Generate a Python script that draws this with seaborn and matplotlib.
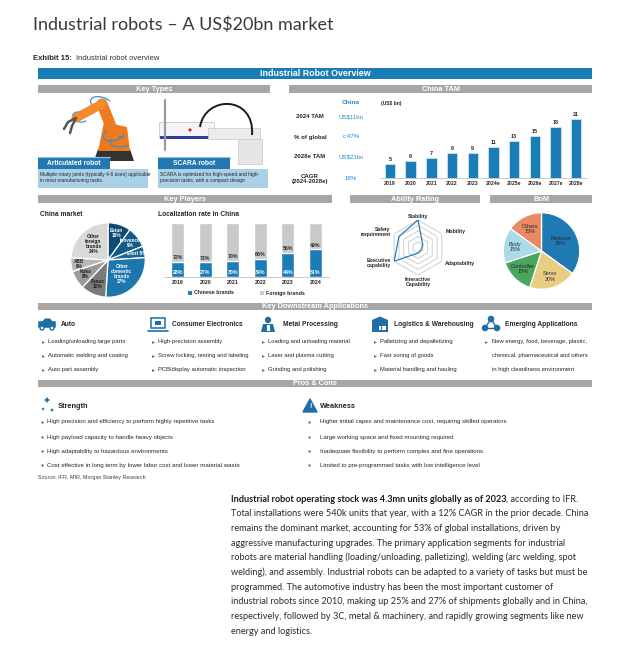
import matplotlib
matplotlib.use("Agg")
import matplotlib.pyplot as plt
import matplotlib.patches as mpatches
from matplotlib.path import Path
import numpy as np
import pandas as pd
import seaborn as sns

W, H = 628, 651

tam_years = ["2019", "2020", "2021", "2022", "2023", "2024e", "2025e", "2026e", "2027e", "2028e"]
tam_values = [5, 6, 7, 9, 9, 11, 13, 15, 18, 21]
tam_row_names = ["2024 TAM", "% of global", "2028e TAM", "CAGR\n(2024-2028e)"]
tam_row_values = ["US$11bn", "c.47%", "US$21bn", "18%"]

loc_years = ["2019", "2020", "2021", "2022", "2023", "2024"]
chinese_share = [28, 27, 30, 34, 44, 51]
foreign_share = [72, 73, 70, 66, 56, 49]

market_brands = ["Estun", "Inovance", "Efort", "Other\ndomestic\nbrands", "Fanuc", "Kuka", "ABB",
                 "Other\nforeign\nbrands"]
market_share = [10, 9, 5, 27, 11, 8, 6, 24]

ability_axes = ["Stability", "Mobility", "Adaptability", "Interactive\nCapability",
                "Executive\ncapability", "Safety\nrequirement"]
ability_scores = [5, 1, 0.7, 1, 5, 4]

bom_parts = ["Reducer", "Servo", "Controller", "Body", "Others"]
bom_share = [35, 20, 15, 15, 15]

app_titles = ["Auto", "Consumer Electronics", "Metal Processing", "Logistics & Warehousing",
              "Emerging Applications"]
app_items = [
    ["Loading/unloading large parts", "Automatic welding and coating", "Auto part assembly"],
    ["High-precision assembly", "Screw locking, testing and labeling", "PCB/display automatic inspection"],
    ["Loading and unloading material", "Laser and plasma cutting", "Grinding and polishing"],
    ["Palletizing and depalletizing", "Fast soring of goods", "Material handling and hauling"],
    ["New energy, food, beverage, plastic,", "chemical, pharmaceutical and others",
     "in high cleanliness environment"],
]
strengths = ["High precision and efficiency to perform highly repetitive tasks",
             "High payload capacity to handle heavy objects",
             "High adaptability to hazardous environments",
             "Cost effective in long term by lower labor cost and lower material waste"]
weaknesses = ["Higher initial capex and maintenance cost, requiring skilled operators",
              "Large working space and fixed mounting required",
              "Inadequate flexibility to perform complex and fine operations",
              "Limited to pre-programmed tasks with low intelligence level"]

para_bold = "Industrial robot operating stock was 4.3mn units globally as of 2023"
para_lines = [", according to IFR.",
              "Total installations were 540k units that year, with a 12% CAGR in the prior decade. China",
              "remains the dominant market, accounting for 53% of global installations, driven by",
              "aggressive manufacturing upgrades. The primary application segments for industrial",
              "robots are material handling (loading/unloading, palletizing), welding (arc welding, spot",
              "welding), and assembly. Industrial robots can be adapted to a variety of tasks but must be",
              "programmed. The automotive industry has been the most important customer of",
              "industrial robots since 2010, making up 25% and 27% of shipments globally and in China,",
              "respectively, followed by 3C, metal & machinery, and rapidly growing segments like new",
              "energy and logistics."]

BLUE = "#1b7db6"
GREY_BAR = "#a6a6a6"
DARK = "#262626"
ICON = "#1f6ea8"

sns.set_theme(style="white")
plt.rcParams["font.family"] = ["Liberation Sans", "DejaVu Sans"]

fig = plt.figure(figsize=(W / 100, H / 100), dpi=100)
cv = fig.add_axes([0, 0, 1, 1])
cv.set_xlim(0, W)
cv.set_ylim(H, 0)
cv.axis("off")


def px_axes(x0, y0, x1, y1, **kw):
    ax = fig.add_axes([x0 / W, 1 - y1 / H, (x1 - x0) / W, (y1 - y0) / H], **kw)
    ax.patch.set_alpha(0)
    return ax


def header(x0, x1, y0, y1, label, color=GREY_BAR, size=5.3):
    cv.add_patch(mpatches.Rectangle((x0, y0), x1 - x0, y1 - y0, color=color, lw=0))
    cv.text((x0 + x1) / 2, (y0 + y1) / 2 + 0.3, label, color="white", fontsize=size,
            fontweight="bold", ha="center", va="center")


# ---- titles ----
cv.text(33, 25, "Industrial robots \u2013 A US$20bn market", fontsize=13, family=["Lato", "DejaVu Sans"],
        color="#3a3a3a", va="center")
ex = cv.text(33, 58, "Exhibit 15:", fontsize=5.5, fontweight="bold", color=DARK, va="center")
cv.annotate("Industrial robot overview", xy=(1, 58), xycoords=(ex, cv.transData), xytext=(3, 0),
            textcoords="offset points", fontsize=5.5, color="#333333", va="center")
header(38, 592, 68, 79, "Industrial Robot Overview", color=BLUE, size=6.4)

# ---- key types ----
header(38, 270, 85, 93, "Key Types")

# articulated robot sketch
cv.add_patch(mpatches.Polygon([[94, 161], [134, 161], [130, 149], [98, 149]], color="#333333", lw=0))
cv.add_patch(mpatches.Polygon([[98, 151], [130, 151], [127, 127], [104, 122]], color="#f07a1a", lw=0))
cv.plot([114, 102], [134, 104], color="#ee7b22", lw=8, solid_capstyle="round")
cv.plot([102, 76], [104, 118], color="#f28a2e", lw=6.5, solid_capstyle="round")
cv.add_patch(mpatches.Circle((102, 104), 5, fc="#d96a12", lw=0))
cv.add_patch(mpatches.Circle((114, 134), 5.5, fc="#d96a12", lw=0))
cv.plot([76, 68, 64], [118, 122, 129], color="#555555", lw=1.8)
cv.plot([76, 72, 70], [118, 126, 133], color="#555555", lw=1.8)
for (cx, cy, w, h, a) in [(102, 104, 24, 13, 20), (114, 134, 22, 13, -20), (80, 117, 15, 10, 10),
                         (120, 142, 20, 10, 0)]:
    cv.add_patch(mpatches.Arc((cx, cy), w, h, angle=a, theta1=20, theta2=320, color="#3a8fd0", lw=0.9))

# SCARA sketch
cv.plot([165, 165], [100, 150], color="#9a9a9a", lw=1.6)
cv.add_patch(mpatches.FancyBboxPatch((161, 124), 52, 13, boxstyle="round,pad=1.5", fc="#f4f4f8",
                                     ec="#c8c8d0", lw=0.6))
cv.add_patch(mpatches.Rectangle((160, 136), 54, 3, color="#2d3f99", lw=0))
cv.add_patch(mpatches.Rectangle((208, 128), 52, 11, fc="#ececec", ec="#c8c8c8", lw=0.5))
cv.add_patch(mpatches.Rectangle((238, 139), 24, 25, fc="#e6e6e6", ec="#c8c8c8", lw=0.5))
cable = Path([(200, 127), (205, 95), (255, 95), (252, 135)], [Path.MOVETO, Path.CURVE4, Path.CURVE4, Path.CURVE4])
cv.add_patch(mpatches.PathPatch(cable, fc="none", ec="#1a1a1a", lw=1.4))
cv.add_patch(mpatches.Circle((190, 130), 1.6, color="#c0392b", lw=0))

for x0, x1, x2, label, desc in [
        (38, 110, 148, "Articulated robot",
         "Multiple rotary joints (typically 4-6 axes) applicable\nin most manufacturing tasks."),
        (158, 230, 268, "SCARA robot",
         "SCARA is optimized for high-speed and high-\nprecision tasks, with a compact design")]:
    cv.add_patch(mpatches.Rectangle((x0, 169), x2 - x0, 19, color="#a9d0e6", lw=0))
    cv.add_patch(mpatches.Rectangle((x0, 157), x1 - x0, 12, color="#2378b1", lw=0))
    cv.plot([x0, x1], [157.3, 157.3], color="#8cc2e3", lw=0.8)
    cv.text((x0 + x1) / 2, 163.3, label, color="white", fontsize=4.8, fontweight="bold",
            ha="center", va="center")
    cv.text(x0 + 2.5, 177.5, desc, color=DARK, fontsize=3.5, va="center", linespacing=1.05)

# ---- China TAM ----
header(289, 592, 85, 93, "China TAM")
cv.text(351, 103, "China", color="#2a86c6", fontsize=4.6, fontweight="bold", ha="center", va="center")
cv.text(381, 103, "(US$ bn)", color=DARK, fontsize=3.6, fontweight="bold", va="center")
for i, (name, val) in enumerate(zip(tam_row_names, tam_row_values)):
    y = [117, 137, 157, 179][i]
    cv.text(310, y, name, color=DARK, fontsize=4.4, fontweight="bold", ha="center", va="center",
            linespacing=1.1)
    cv.text(351, y, val, color="#2a86c6", fontsize=4.4, ha="center", va="center")

ax = px_axes(379.6, 110, 586.6, 178)
sns.barplot(x=tam_years, y=tam_values, color=BLUE, saturation=1, width=0.5, edgecolor="#cfe3f2",
            linewidth=0.6, ax=ax)
ax.bar_label(ax.containers[0], fontsize=3.9, fontweight="bold", padding=1.5, color=DARK)
ax.set_xlim(-0.5, len(tam_years) - 0.5)
ax.set_ylim(0, 24.2)
ax.set_yticks([])
ax.set_xlabel("")
ax.set_ylabel("")
ax.tick_params(axis="x", length=0, pad=2, labelsize=3.7, colors=DARK)
for lab in ax.get_xticklabels():
    lab.set_fontweight("bold")
for s in ["top", "left", "right"]:
    ax.spines[s].set_visible(False)
ax.spines["bottom"].set_color("#bfbfbf")
ax.spines["bottom"].set_linewidth(0.6)

# ---- Key players ----
header(38, 332, 195, 203, "Key Players")
cv.text(40, 214, "China market", color=DARK, fontsize=4.8, fontweight="bold", va="center")
cv.text(158, 214, "Localization rate in China", color=DARK, fontsize=4.8, fontweight="bold", va="center")

market_colors = ["#0f4b70", "#155b87", "#1a6897", "#1e76ad", "#7a7a7a", "#9b9b9b", "#b8b8b8", "#d9d9d9"]
market_text = ["white", "white", "white", "white", "#1e1e1e", "#1e1e1e", "#1e1e1e", "#1e1e1e"]
market_r = [0.76, 0.76, 0.78, 0.52, 0.7, 0.72, 0.78, 0.58]
ax = px_axes(108 - 38, 260 - 38, 108 + 38, 260 + 38)
wedges, _ = ax.pie(market_share, colors=market_colors, startangle=90, counterclock=False,
                   wedgeprops=dict(edgecolor="white", linewidth=0.9))
ax.set_xlim(-1.02, 1.02)
ax.set_ylim(-1.02, 1.02)
for w, name, pct, col, rf in zip(wedges, market_brands, market_share, market_text, market_r):
    ang = np.deg2rad((w.theta1 + w.theta2) / 2)
    lab = f"{name} {pct}%" if name == "Efort" else f"{name}\n{pct}%"
    ax.text(rf * np.cos(ang), rf * np.sin(ang), lab, ha="center", va="center", fontsize=3.4,
            fontweight="bold", color=col, linespacing=1.0)

loc_df = pd.DataFrame({"year": loc_years, "chinese": chinese_share,
                       "total": [c + f for c, f in zip(chinese_share, foreign_share)]})
ax = px_axes(164, 223, 329, 277)
sns.barplot(data=loc_df, x="year", y="total", color="#c9c9c9", saturation=1, width=0.47, ax=ax)
sns.barplot(data=loc_df, x="year", y="chinese", color=BLUE, saturation=1, width=0.47, ax=ax)
for i, (c, f) in enumerate(zip(chinese_share, foreign_share)):
    ax.text(i, 8, f"{c}%", ha="center", va="center", fontsize=3.8, fontweight="bold", color="white")
    ax.text(i, c + 8, f"{f}%", ha="center", va="center", fontsize=3.8, fontweight="bold", color=DARK)
ax.set_xlim(-0.5, len(loc_years) - 0.5)
ax.set_ylim(0, 100)
ax.set_yticks([])
ax.set_xlabel("")
ax.set_ylabel("")
ax.tick_params(axis="x", length=0, pad=2.5, labelsize=3.8, colors=DARK)
for lab in ax.get_xticklabels():
    lab.set_fontweight("bold")
for s in ["top", "left", "right"]:
    ax.spines[s].set_visible(False)
ax.spines["bottom"].set_color("#bfbfbf")
ax.spines["bottom"].set_linewidth(0.6)

for x, col, label in [(190, BLUE, "Chinese brands"), (262, "#c9c9c9", "Foreign brands")]:
    cv.add_patch(mpatches.Rectangle((x - 2.3, 290.7), 4.6, 4.6, color=col, lw=0))
    cv.text(x + 4.5, 293, label, fontsize=3.8, fontweight="bold", color=DARK, va="center")

# ---- Ability rating ----
header(350, 480, 195, 203, "Ability Rating")
R = 27.5
ax = px_axes(418 - R, 247.5 - R, 418 + R, 247.5 + R, projection="polar")
ax.set_theta_offset(np.pi / 2)
ax.set_theta_direction(-1)
angles = np.linspace(0, 2 * np.pi, len(ability_axes), endpoint=False)
ring_ang = np.append(angles, angles[0])
for r in range(1, 6):
    ax.plot(ring_ang, [r] * len(ring_ang), color="#d4d4d4", lw=0.8)
vals = list(ability_scores) + [ability_scores[0]]
ax.plot(ring_ang, vals, color="#2b7bb6", lw=0.9)
ax.set_ylim(0, 5)
ax.grid(False)
ax.set_xticks([])
ax.set_yticks([])
ax.spines["polar"].set_visible(False)
label_pos = [(5.25, "center", "bottom"), (5.7, "left", "center"), (5.7, "left", "center"),
             (5.3, "center", "top"), (5.7, "right", "center"), (5.7, "right", "center")]
for a, name, (rr, ha, va) in zip(angles, ability_axes, label_pos):
    ax.text(a, rr, name, ha=ha, va=va, fontsize=3.7, fontweight="bold", color=DARK,
            linespacing=1.05, clip_on=False)

# ---- BoM ----
header(490, 592, 195, 203, "BoM")
bom_colors = ["#1f7ab3", "#e9cd85", "#4aa65f", "#a9dbe8", "#e98a62"]
bom_r = [0.56, 0.7, 0.68, 0.7, 0.64]
ax = px_axes(541.5 - 39, 251 - 39, 541.5 + 39, 251 + 39)
wedges, _ = ax.pie(bom_share, colors=bom_colors, startangle=90, counterclock=False,
                   wedgeprops=dict(edgecolor="white", linewidth=0.9))
ax.set_xlim(-1.02, 1.02)
ax.set_ylim(-1.02, 1.02)
for w, name, pct, rf in zip(wedges, bom_parts, bom_share, bom_r):
    ang = np.deg2rad((w.theta1 + w.theta2) / 2)
    ax.text(rf * np.cos(ang), rf * np.sin(ang), f"{name}\n{pct}%", ha="center", va="center",
            fontsize=4.0, color="#2a2a2a", linespacing=1.05)

# ---- Key downstream applications ----
header(38, 592, 303, 310, "Key Downstream Applications")
icon_x = [47, 158, 268, 380, 491]
title_x = [61, 172, 283, 394, 505]
bullet_x = [43, 153, 263, 375, 486]
for k, (title, items) in enumerate(zip(app_titles, app_items)):
    cv.text(title_x[k], 325, title, fontsize=4.8, fontweight="bold", color=DARK, va="center")
    for j, item in enumerate(items):
        y = [342, 356, 370][j]
        if k < 4 or j == 0:
            cv.plot(bullet_x[k], y, marker=">", ms=2.0, color=ICON, mec="none")
        cv.text(bullet_x[k] + 5.5, y, item, fontsize=4.2, color=DARK, va="center")

# icons
ix = icon_x
cv.add_patch(mpatches.FancyBboxPatch((ix[0] - 8, 322), 16, 5, boxstyle="round,pad=0.8", fc=ICON, lw=0))
cv.add_patch(mpatches.Polygon([[ix[0] - 5, 322], [ix[0] - 2, 318.5], [ix[0] + 3, 318.5], [ix[0] + 6, 322]],
                              fc=ICON, lw=0))
for dx in (-5, 5):
    cv.add_patch(mpatches.Circle((ix[0] + dx, 328), 2.0, fc="white", ec=ICON, lw=1.0))
cv.add_patch(mpatches.Rectangle((ix[1] - 7, 318), 14, 10, fc="white", ec=ICON, lw=1.1))
cv.add_patch(mpatches.Rectangle((ix[1] - 3, 321), 6, 4, fc=ICON, lw=0))
cv.plot([ix[1] - 10, ix[1] + 10], [331, 331], color=ICON, lw=1.2)
cv.add_patch(mpatches.Circle((ix[2], 320), 3.2, fc=ICON, lw=0))
cv.add_patch(mpatches.Polygon([[ix[2] - 7, 332], [ix[2] - 5, 324], [ix[2] + 5, 324], [ix[2] + 7, 332]],
                              fc=ICON, lw=0))
cv.add_patch(mpatches.Rectangle((ix[2] - 1.5, 325), 3, 6, fc="white", lw=0))
cv.add_patch(mpatches.Polygon([[ix[3] - 8, 332], [ix[3] - 8, 320], [ix[3], 316.5], [ix[3] + 8, 320],
                               [ix[3] + 8, 332]], fc=ICON, lw=0))
for gx in range(3):
    for gy in range(2):
        cv.add_patch(mpatches.Rectangle((ix[3] - 1 + gx * 2.6, 325.5 + gy * 2.6), 2, 2, fc="white", lw=0))
pts = [(ix[4], 319), (ix[4] - 6, 328), (ix[4] + 6, 328)]
for a, b in [(0, 1), (1, 2), (2, 0)]:
    cv.plot([pts[a][0], pts[b][0]], [pts[a][1], pts[b][1]], color=ICON, lw=1.0)
for p in pts:
    cv.add_patch(mpatches.Circle(p, 3.3, fc=ICON, lw=0))

# ---- pros & cons ----
header(38, 592, 380, 387, "Pros & Cons")
for cx, cy, s in [(47, 400, 3.2), (43, 409, 1.8), (52, 410, 2.0)]:
    cv.add_patch(mpatches.Polygon([[cx, cy - s], [cx + s * 0.35, cy - s * 0.35], [cx + s, cy],
                                   [cx + s * 0.35, cy + s * 0.35], [cx, cy + s], [cx - s * 0.35, cy + s * 0.35],
                                   [cx - s, cy], [cx - s * 0.35, cy - s * 0.35]], fc=ICON, lw=0))
cv.text(58, 407, "Strength", fontsize=5.3, fontweight="bold", color=DARK, va="center")
cv.add_patch(mpatches.Polygon([[303, 412], [310, 399], [317, 412]], fc=ICON, ec=ICON, lw=1.0,
                              joinstyle="round"))
cv.text(310, 407, "!", color="white", fontsize=5, fontweight="bold", ha="center", va="center")
cv.text(320, 407, "Weakness", fontsize=5.3, fontweight="bold", color=DARK, va="center")
for j, (s_txt, w_txt) in enumerate(zip(strengths, weaknesses)):
    y = [422, 437, 451, 465][j]
    cv.plot(42, y, marker="s", ms=1.9, color=ICON, mec="none")
    cv.text(47, y, s_txt, fontsize=4.4, color=DARK, va="center")
    cv.plot(309, y, marker="s", ms=1.9, color=ICON, mec="none")
    cv.text(320, y, w_txt, fontsize=4.4, color=DARK, va="center")
cv.text(38, 478, "Source: IFR, MIR, Morgan Stanley Research", fontsize=3.9, color="#404040", va="center")

# ---- commentary paragraph ----
pfam = ["Lato", "DejaVu Sans"]
y0, dy = 501.5, 14.67
tb = cv.text(231, y0, para_bold, fontsize=6.6, fontweight="bold", family=pfam, color="#1a1a1a",
             va="baseline")
cv.annotate(para_lines[0], xy=(1, y0), xycoords=(tb, cv.transData), fontsize=6.6, family=pfam,
            color="#2b2b2b", va="baseline")
for i, line in enumerate(para_lines[1:], start=1):
    cv.text(231, y0 + i * dy, line, fontsize=6.6, family=pfam, color="#2b2b2b", va="baseline")

fig.savefig("out.png", dpi=100)
